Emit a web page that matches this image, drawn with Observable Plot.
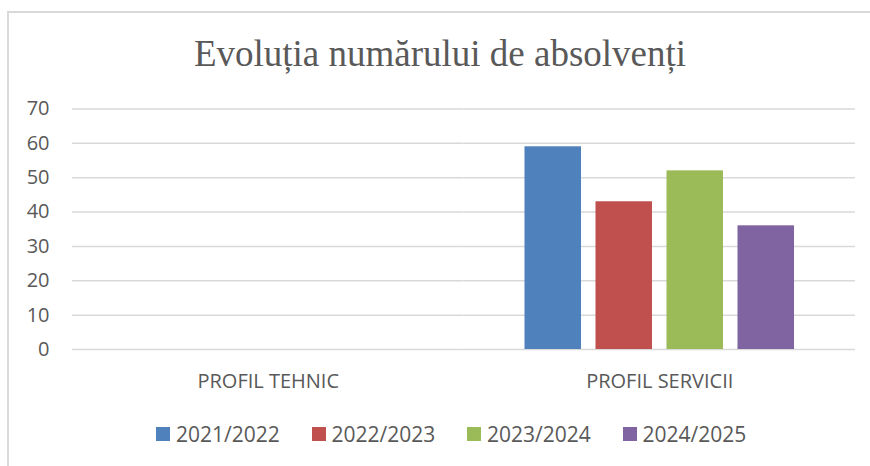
<!DOCTYPE html>
<html><head><meta charset="utf-8">
<script src="https://cdn.jsdelivr.net/npm/d3@7"></script>
<script src="https://cdn.jsdelivr.net/npm/@observablehq/plot@0.6"></script>
<style>
body{margin:0;background:#fff;}
#wrap{position:relative;width:870px;height:466px;overflow:hidden;font-family:"Open Sans";background:#fff;}
#frame{position:absolute;left:7px;top:11px;width:900px;height:500px;border-left:2px solid #d9d9d9;border-top:2px solid #d9d9d9;}
#title{position:absolute;left:0;top:35px;width:880px;text-align:center;font-family:"Liberation Serif";font-size:37px;line-height:37px;color:#595959;white-space:nowrap;}
#chart{position:absolute;left:0;top:0;}
#legend{position:absolute;top:420px;left:156px;display:flex;font-size:21px;color:#595959;}
.item{width:155.5px;display:flex;align-items:center;height:28px;}
.sw{width:14px;height:14px;margin-right:6px;flex:none;}
</style></head>
<body>
<div id="wrap">
  <div id="frame"></div>
  <div id="chart"></div>
  <div id="title">Evoluția numărului de absolvenți</div>
  <div id="legend"></div>
</div>
<script>
const categories = ["PROFIL TEHNIC", "PROFIL SERVICII"];
const years = ["2021/2022", "2022/2023", "2023/2024", "2024/2025"];
const tehnic = [0, 0, 0, 0];
const servicii = [59, 43, 52, 36];
const colors = ["#4f81bd", "#c0504d", "#9bbb59", "#8064a2"];
const yTicks = [0, 10, 20, 30, 40, 50, 60, 70];

const data = years.flatMap((y, i) => [
  {cat: categories[0], year: y, value: tehnic[i]},
  {cat: categories[1], year: y, value: servicii[i]}
]);

const chart = Plot.plot({
  width: 870, height: 400,
  marginTop: 108.5, marginBottom: 51, marginLeft: 72, marginRight: 15,
  fx: {domain: categories, padding: 0, round: false, label: null},
  x: {domain: years, paddingInner: 0.204, paddingOuter: 0.859, round: false, axis: null},
  y: {domain: [0, 70], label: null},
  color: {domain: years, range: colors},
  style: {fontFamily: "Open Sans", fontSize: "20px", color: "#595959", background: "transparent"},
  marks: [
    Plot.gridY(yTicks, {stroke: "#d9d9d9", strokeOpacity: 1, strokeWidth: 1.5}),
    Plot.barY(data, {fx: "cat", x: "year", y: "value", fill: "year", inset: 0}),
    Plot.axisY(yTicks, {tickSize: 0, tickPadding: 23, label: null, fill: "#595959", fontSize: 20}),
    Plot.axisFx({anchor: "bottom", tickSize: 0, tickPadding: 24, label: null, fontSize: 20, fill: "#595959"})
  ]
});
document.getElementById("chart").appendChild(chart);

const legend = document.getElementById("legend");
years.forEach((y, i) => {
  const it = document.createElement("div");
  it.className = "item";
  const sw = document.createElement("span");
  sw.className = "sw";
  sw.style.background = colors[i];
  const t = document.createElement("span");
  t.textContent = y;
  it.appendChild(sw); it.appendChild(t);
  legend.appendChild(it);
});
</script>
</body></html>
